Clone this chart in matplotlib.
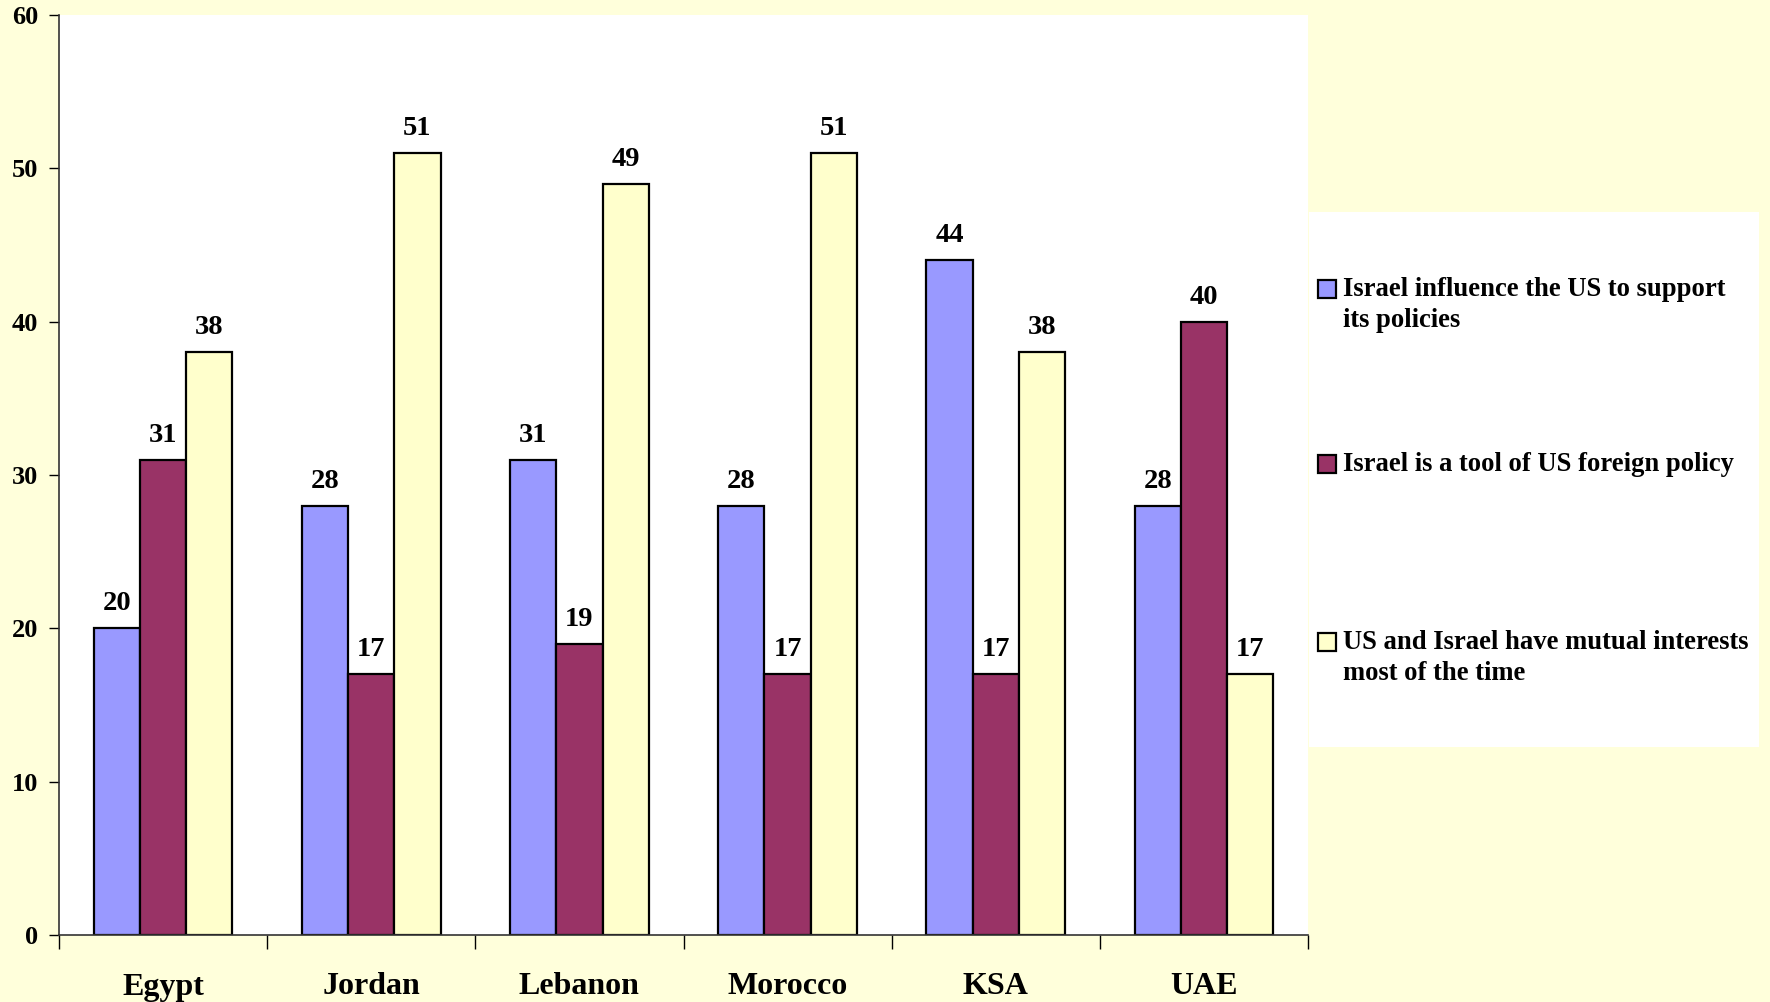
import numpy as np
import matplotlib
matplotlib.use("Agg")
import matplotlib.pyplot as plt
from matplotlib.patches import Rectangle

# ============================== Data

countries = ["Egypt", "Jordan", "Lebanon", "Morocco", "KSA", "UAE"]
series_labels = [
    "Israel influence the US to support\nits policies",
    "Israel is a tool of US foreign policy",
    "US and Israel have mutual interests\nmost of the time",
]
influence = [20, 28, 31, 28, 44, 28]
tool = [31, 17, 19, 17, 17, 40]
mutual = [38, 51, 49, 51, 38, 17]
y_ticks = [0, 10, 20, 30, 40, 50, 60]

# ============================== Style

BG = "#FFFFDB"
COLORS = ["#9999FF", "#993366", "#FFFFCC"]
BAR_W = 0.222

plt.rcParams["font.family"] = ["Liberation Serif", "DejaVu Serif"]
plt.rcParams["font.weight"] = "bold"

fig = plt.figure(figsize=(17.7, 10.02), dpi=100, facecolor=BG)
W, H = 1770, 1002
ax = fig.add_axes([59 / W, 1 - 935 / H, (1308 - 59) / W, (935 - 15) / H])
ax.set_facecolor("white")

x = np.arange(len(countries))
all_series = [influence, tool, mutual]
for i, (vals, col) in enumerate(zip(all_series, COLORS)):
    bars = ax.bar(x + (i - 1) * BAR_W, vals, width=BAR_W, color=col,
                  edgecolor="black", linewidth=1.6)
    for b, v in zip(bars, vals):
        ax.annotate(str(v), (b.get_x() + b.get_width() / 2, v),
                    xytext=(0, 13), textcoords="offset points",
                    ha="center", va="baseline", fontsize=20.5, fontweight="bold")

ax.set_xlim(-0.5, len(countries) - 0.5)
ax.set_ylim(0, 60)
ax.set_yticks(y_ticks)
ax.set_yticklabels([str(t) for t in y_ticks], fontsize=19, fontweight="bold")
ax.tick_params(axis="y", length=7, width=1, pad=8)

# ticks on group boundaries, labels at centres
ax.set_xticks(np.arange(len(countries) + 1) - 0.5)
ax.set_xticklabels([])
ax.tick_params(axis="x", which="major", length=10, width=1, direction="out")
ax.set_xticks(x, minor=True)
ax.set_xticklabels(countries, minor=True, fontsize=23, fontweight="bold")
ax.tick_params(axis="x", which="minor", length=0, pad=27)

for s in ["top", "right"]:
    ax.spines[s].set_visible(False)
for s in ["left", "bottom"]:
    ax.spines[s].set_color("#333333")
    ax.spines[s].set_linewidth(1.2)

# ------------------------- Legend (white box on the right)
lax = fig.add_axes([1309 / W, 1 - 747 / H, (1759 - 1309) / W, (747 - 212) / H])
lax.set_facecolor("white")
lax.set_xlim(0, 450)
lax.set_ylim(535, 0)
lax.set_xticks([])
lax.set_yticks([])
for s in lax.spines.values():
    s.set_visible(False)

entry_y = [77, 252, 430]
for yy, lab, col in zip(entry_y, series_labels, COLORS):
    lax.add_patch(Rectangle((9, yy - 9), 18, 18, facecolor=col,
                            edgecolor="black", linewidth=1.6))
    lax.text(34, yy - 12, lab, fontsize=19.2, fontweight="bold", va="top",
             ha="left", linespacing=1.33)

fig.savefig("out.png", dpi=100, facecolor=BG)
